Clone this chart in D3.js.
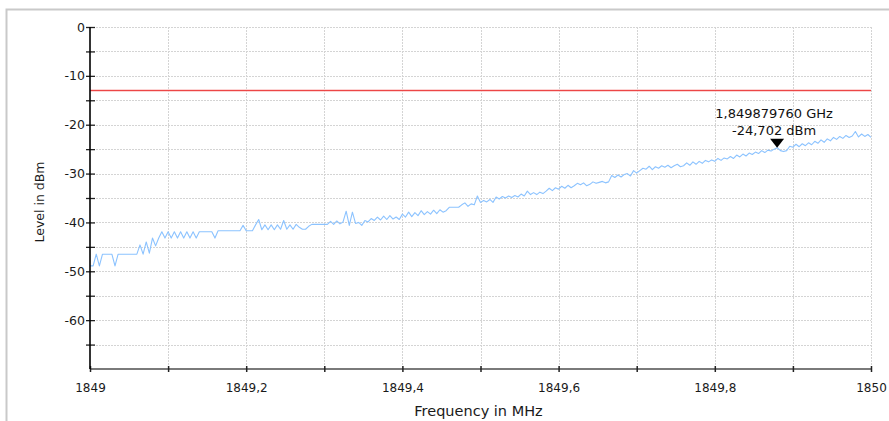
<!DOCTYPE html>
<html>
<head>
<meta charset="utf-8">
<script src="https://cdn.jsdelivr.net/npm/d3@7"></script>
<style>
  html, body { margin: 0; padding: 0; background: #fff; }
  svg { display: block; font-family: "DejaVu Sans", Verdana, sans-serif; }
</style>
</head>
<body>
<svg id="chart" width="889" height="421"></svg>
<script>
// Sweep settings (MHz)
const startFreq = 1849;
const stepFreq = 0.004;

// Measured trace levels in dBm, one per sweep point
const levels = [
  -48.9, -48.9, -46.5, -48.9, -46.5, -46.5, -46.5, -46.5, -48.9, -46.5,
  -46.5, -46.5, -46.5, -46.5, -46.5, -46.5, -44.6, -46.5, -44.0, -46.3,
  -43.2, -44.8, -43.2, -41.9, -43.2, -41.9, -43.2, -41.9, -43.2, -41.9,
  -43.2, -41.9, -43.2, -41.9, -43.2, -41.9, -41.9, -41.9, -41.9, -41.9,
  -43.2, -41.7, -41.7, -41.7, -41.7, -41.7, -41.7, -41.7, -41.7, -40.6,
  -41.7, -41.7, -41.7, -40.5, -39.4, -41.5, -40.5, -41.5, -40.5, -41.5,
  -40.5, -41.4, -39.6, -41.4, -40.5, -41.4, -40.4, -41.0, -41.4, -41.4,
  -40.8, -40.4, -40.4, -40.4, -40.4, -40.4, -40.4, -39.8, -40.4, -39.7,
  -40.3, -39.9, -37.7, -40.6, -37.9, -40.2, -40.0, -40.6, -39.6, -39.9,
  -39.2, -39.6, -38.9, -39.5, -38.7, -39.4, -38.6, -39.3, -38.9, -39.4,
  -38.3, -38.9, -37.9, -38.8, -38.0, -38.6, -37.6, -38.4, -37.8, -38.3,
  -37.5, -38.2, -37.4, -37.9, -37.6, -36.9, -36.9, -36.9, -36.9, -36.4,
  -36.0, -36.7, -36.2, -36.4, -34.6, -35.9, -35.5, -35.8, -35.3, -35.9,
  -34.8, -35.2, -34.7, -35.0, -34.6, -34.9, -34.5, -34.8, -34.2, -34.6,
  -33.6, -34.3, -33.9, -34.3, -33.8, -34.1, -33.6, -33.0, -33.5, -32.9,
  -33.2, -32.6, -33.0, -32.4, -32.9, -32.5, -32.0, -32.3, -31.9, -32.5,
  -32.2, -31.7, -32.0, -31.8, -31.6, -31.9, -31.7, -30.4, -30.8, -30.3,
  -30.7, -30.2, -30.0, -30.5, -29.4, -29.9, -29.4, -28.9, -29.1, -28.5,
  -29.2, -28.6, -28.9, -28.4, -28.7, -28.3, -28.8, -28.4, -28.1, -28.6,
  -28.4, -27.8, -28.3, -27.6, -28.1, -27.5, -27.9, -27.3, -27.6, -27.2,
  -27.5, -26.9, -27.3, -26.8, -27.0, -26.5, -26.9, -26.2, -26.6, -26.0,
  -26.4, -25.8, -26.1, -25.6, -25.9, -25.3, -25.7, -25.2, -25.4, -25.0,
  -24.702, -25.3, -25.5, -25.3, -24.4, -24.6, -24.0, -24.5, -23.9, -24.3,
  -23.7, -24.1, -23.4, -23.8, -23.1, -23.6, -22.9, -23.3, -22.6, -23.0,
  -22.4, -22.8, -22.2, -22.6, -22.3, -21.4, -22.5, -21.9, -22.4, -22.0,
  -22.6
];

// Limit line (dBm)
const limitLevel = -13;

// Marker
const markerFreqMHz = 1849.87976;
const markerLevel = -24.702;
const markerLabels = ["1,849879760 GHz", "-24,702 dBm"];

// Axis ticks
const xLabelTicks = [1849, 1849.2, 1849.4, 1849.6, 1849.8, 1850];
const xMinorTicks = [1849, 1849.1, 1849.2, 1849.3, 1849.4, 1849.5, 1849.6, 1849.7, 1849.8, 1849.9, 1850];
const yLabelTicks = [0, -10, -20, -30, -40, -50, -60];
const yMinorTicks = [0, -5, -10, -15, -20, -25, -30, -35, -40, -45, -50, -55, -60, -65];

const xTitle = "Frequency in MHz";
const yTitle = "Level in dBm";

const trace = levels.map((v, i) => ({ f: startFreq + i * stepFreq, v }));

const svg = d3.select("#chart");
const margin = { left: 90, right: 18, top: 27, bottom: 52 };
const W = 889, H = 421;
const x = d3.scaleLinear().domain([1849, 1850]).range([margin.left, W - margin.right]);
const y = d3.scaleLinear().domain([0, -70]).range([margin.top, H - margin.bottom]);

const fmt = d => String(+d.toFixed(1)).replace(".", ",");
const textColor = "#1a1a1a";

// Outer frame
svg.append("path")
  .attr("d", `M6.5,${H} V9.5 H${W}`)
  .attr("fill", "none").attr("stroke", "#c9c9c9").attr("stroke-width", 2);

// Grid
const grid = svg.append("g").attr("stroke", "#d4d4d4").attr("stroke-width", 1).attr("stroke-dasharray", "2,1");
grid.selectAll("line.h").data(yMinorTicks).join("line").attr("class", "h")
  .attr("x1", x(1849)).attr("x2", x(1850))
  .attr("y1", d => Math.round(y(d)) + 0.5).attr("y2", d => Math.round(y(d)) + 0.5);
grid.selectAll("line.v").data(xMinorTicks.slice(1)).join("line").attr("class", "v")
  .attr("x1", d => Math.round(x(d)) + 0.5).attr("x2", d => Math.round(x(d)) + 0.5)
  .attr("y1", y(0)).attr("y2", y(-70));

// Limit line
svg.append("line")
  .attr("x1", x(1849)).attr("x2", x(1850))
  .attr("y1", y(limitLevel)).attr("y2", y(limitLevel))
  .attr("stroke", "#fbc6c6").attr("stroke-width", 2.6);
svg.append("line")
  .attr("x1", x(1849)).attr("x2", x(1850))
  .attr("y1", y(limitLevel)).attr("y2", y(limitLevel))
  .attr("stroke", "#ec4646").attr("stroke-width", 1.1);

// Trace
svg.append("path")
  .datum(trace)
  .attr("fill", "none")
  .attr("stroke", "#8cc3ff")
  .attr("stroke-width", 1.1)
  .attr("stroke-linejoin", "round")
  .attr("d", d3.line().x(d => x(d.f)).y(d => y(d.v)));

// X axis
const xAxisG = svg.append("g").attr("transform", `translate(0,${y(-70)})`);
xAxisG.append("line").attr("x1", x(1849)).attr("x2", x(1850))
  .attr("stroke", "#7a7a7a").attr("stroke-width", 2);
xAxisG.call(d3.axisBottom(x).tickValues(xMinorTicks).tickSize(3).tickFormat(""))
  .call(g => g.select(".domain").remove())
  .call(g => g.selectAll(".tick line").attr("y1", -3).attr("stroke", "#222").attr("stroke-width", 1.5));
xAxisG.append("g")
  .call(d3.axisBottom(x).tickValues(xLabelTicks).tickSize(0).tickPadding(14).tickFormat(fmt))
  .call(g => g.select(".domain").remove())
  .call(g => g.selectAll("text").attr("font-size", 12).attr("fill", textColor)
    .attr("font-family", "DejaVu Sans, Verdana, sans-serif"));

// Y axis
const yAxisG = svg.append("g").attr("transform", `translate(${x(1849)},0)`);
yAxisG.call(d3.axisLeft(y).tickValues(yMinorTicks).tickSize(4).tickFormat(""))
  .call(g => g.select(".domain").remove())
  .call(g => g.selectAll(".tick line").attr("x2", -4).attr("x1", 5).attr("stroke", "#222").attr("stroke-width", 1.3));
yAxisG.append("line").attr("y1", y(0)).attr("y2", y(-70))
  .attr("stroke", "#000").attr("stroke-width", 1.6);
yAxisG.append("g")
  .call(d3.axisLeft(y).tickValues(yLabelTicks).tickSize(0).tickPadding(5).tickFormat(d => String(d)))
  .call(g => g.select(".domain").remove())
  .call(g => g.selectAll("text").attr("font-size", 12.5).attr("fill", textColor)
    .attr("font-family", "DejaVu Sans, Verdana, sans-serif"));

// Axis titles
svg.append("text")
  .attr("x", (x(1849) + x(1850)) / 2 - 2).attr("y", 416)
  .attr("text-anchor", "middle").attr("font-size", 14.5).attr("fill", textColor)
  .text(xTitle);
svg.append("text")
  .attr("transform", `translate(44,${(y(0) + y(-70)) / 2 + 4}) rotate(-90)`)
  .attr("text-anchor", "middle").attr("font-size", 12.5).attr("fill", textColor)
  .text(yTitle);

// Marker
const mx = x(markerFreqMHz), my = y(markerLevel);
svg.append("path")
  .attr("d", `M${mx - 7},${my - 9} L${mx + 7},${my - 9} L${mx},${my} Z`)
  .attr("fill", "#000");
svg.append("g").selectAll("text").data(markerLabels).join("text")
  .attr("x", mx - 3).attr("y", (d, i) => 118 + i * 17)
  .attr("text-anchor", "middle").attr("font-size", 13).attr("fill", "#111")
  .text(d => d);
</script>
</body>
</html>
